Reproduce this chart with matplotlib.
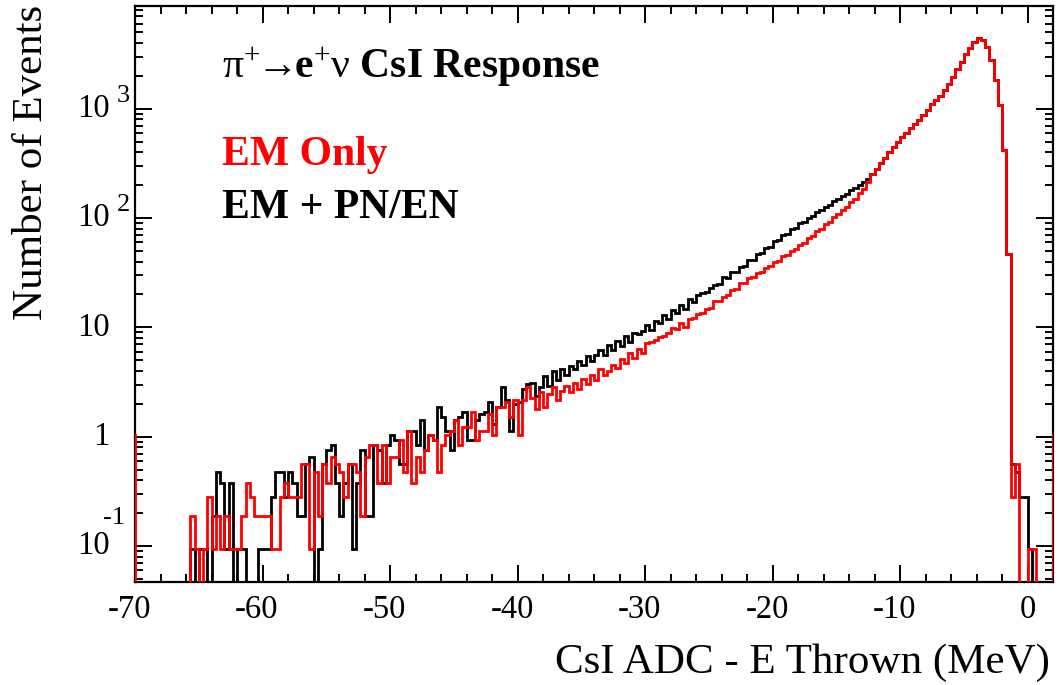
import numpy as np
import matplotlib
matplotlib.use("Agg")
import matplotlib.pyplot as plt
from matplotlib import transforms
from matplotlib.ticker import MultipleLocator, LogLocator, NullFormatter

plt.rcParams['font.family'] = ['Liberation Serif', 'DejaVu Serif']
plt.rcParams['mathtext.fontset'] = 'custom'
plt.rcParams['mathtext.rm'] = 'Liberation Serif'
plt.rcParams['mathtext.bf'] = 'Liberation Serif:bold'
plt.rcParams['mathtext.it'] = 'Liberation Serif:italic'
plt.rcParams['axes.unicode_minus'] = False

# --- binning ---------------------------------------------------------------
X_LO, X_HI = -70.0, 2.0
BIN_WIDTH = 1.0 / 3.0
COUNT_WEIGHT = 0.094          # events per raw MC count (histogram is scaled)

# raw counts, one per 1/3 MeV bin starting at -70 MeV
black_low = [0] * 13 + [
    1, 0, 1, 1, 0, 2, 5, 4, 1, 4, 0, 1, 1, 0, 0, 0, 1, 1, 1, 3,
    5, 5, 3, 5, 4, 2, 2, 6, 7, 0, 1, 6, 8,
    9, 4, 2, 4, 6, 1, 4, 8, 2, 2, 9, 8, 4, 9, 11, 10, 6, 6, 12, 12,
    9, 15, 8, 11, 10, 20, 16, 12, 8, 15, 16, 18, 10, 10, 15, 17, 18, 22, 14, 20,
    30, 23, 12, 21, 22, 29, 32, 33, 25,
    30, 38, 31, 42, 35, 44, 39, 47, 44, 52,
    48, 58, 52, 60, 66, 59, 73, 66, 80, 72,
    88, 78, 95, 92, 99, 112, 101, 122, 117, 137,
    128, 152, 144, 170, 158, 192, 180, 210, 218, 226,
    244, 262, 265, 305, 300, 338, 340, 378, 388, 438,
    440, 498, 508, 568, 582, 650, 668, 742, 762, 838,
    870, 952, 980, 1070, 1110, 1200, 1260, 1350, 1415, 1520,
    1590, 1710, 1780, 1915, 1990, 2140, 2250, 2440]

red_low = [0] * 13 + [
    2, 1, 0, 1, 3, 1, 2, 1, 2, 1, 1, 1, 2, 4, 3, 2, 2, 2, 2, 1,
    1, 3, 4, 3, 3, 3, 6, 6, 1, 5, 2, 6, 4,
    7, 6, 5, 3, 6, 6, 5, 2, 7, 9, 9, 4, 9, 4, 7, 7, 10, 5, 12, 4,
    7, 5, 8, 11, 10, 5, 9, 11, 12, 15, 9, 13, 13, 18, 10, 12, 12, 17, 11, 20,
    20, 22, 16, 23, 11, 23, 30, 24, 19,
    27, 20, 26, 30, 23, 28, 31, 27, 33, 29,
    36, 32, 39, 35, 44, 39, 42, 48, 45, 55,
    50, 62, 56, 68, 62, 77, 78, 81, 86, 88,
    95, 104, 102, 116, 108, 128, 129, 142, 145, 156,
    160, 184, 186, 202, 210, 232, 240, 268, 270, 298,
    305, 336, 345, 372, 388, 418, 434, 474, 490, 534,
    552, 606, 632, 698, 732, 808, 850, 930, 980, 1080,
    1150, 1260, 1350, 1490, 1600, 1790, 1970, 2280]

# peak region, both samples agree
peak_counts = [
    2673, 2999, 3365, 3776, 4236, 4753, 5333, 5848, 6412, 7031,
    7709, 8453, 9268, 10400, 11670, 12790, 14030, 15740, 18070, 20750,
    24380, 28640, 33650, 38640, 43350, 46990, 45300, 39000, 29800, 19500,
    11420, 4440, 497]

black_tail = [6, 5, 3, 3, 1, 0, 0, 0, 0, 0]
red_tail = [3, 6, 0, 0, 1, 1, 0, 0, 0, 0]

red_underflow, red_overflow = 11, 11
black_underflow, black_overflow = 0, 0

black_counts = np.array([black_underflow] + black_low + peak_counts + black_tail + [black_overflow])
red_counts = np.array([red_underflow] + red_low + peak_counts + red_tail + [red_overflow])
edges = X_LO - BIN_WIDTH + BIN_WIDTH * np.arange(len(black_counts) + 1)


def to_events(counts):
    # empty bins go below the axis, like the log-scale ROOT drawing
    return np.where(counts > 0, counts * COUNT_WEIGHT, 1e-4)


W, H = 1059, 685
fig = plt.figure(figsize=(W / 100, H / 100), dpi=100)
ax = fig.add_axes([135 / W, 1 - 582 / H, 918 / W, 576 / H])

ax.stairs(to_events(black_counts), edges, baseline=None, color="black", lw=2.0, zorder=3)
ax.stairs(to_events(red_counts), edges, baseline=None, color="#ff0000", lw=2.0, zorder=4)

ax.set_yscale("log")
ax.set_xlim(X_LO, X_HI)
ax.set_ylim(0.0468, 8710)

for s in ax.spines.values():
    s.set_linewidth(1.6)

ax.xaxis.set_major_locator(MultipleLocator(10))
ax.xaxis.set_minor_locator(MultipleLocator(2))
ax.xaxis.set_major_formatter(NullFormatter())
ax.yaxis.set_major_locator(LogLocator(base=10))
ax.yaxis.set_minor_locator(LogLocator(base=10, subs=np.arange(2, 10)))
ax.yaxis.set_major_formatter(NullFormatter())
ax.yaxis.set_minor_formatter(NullFormatter())
ax.tick_params(which="both", direction="in", top=True, right=True, width=1.4)
ax.tick_params(which="major", length=12)
ax.tick_params(which="minor", length=6)

# x labels: ROOT centres the digits, the minus sign hangs to the left
xlab = transforms.blended_transform_factory(ax.transData, ax.transAxes)
x_ticks = [-70, -60, -50, -40, -30, -20, -10, 0]
for v in x_ticks:
    off = transforms.ScaledTranslation(-0.055 if v < 0 else 0, 0, fig.dpi_scale_trans)
    ax.text(v, -28 / 576, str(v), transform=xlab + off, ha="center", va="center", fontsize=23.5)

# y labels in ROOT style: base right-aligned, exponent floating up-right
ylab = transforms.blended_transform_factory(ax.transAxes, ax.transData)
base_x = (110 - 135) / 918
y_decades = [0.1, 1, 10, 100, 1000]
y_bases = ["10", "1", "10", "10", "10"]
y_exps = ["-1", "", "", "2", "3"]
for val, base, ex in zip(y_decades, y_bases, y_exps):
    ax.text(base_x, val, base, transform=ylab, ha="right", va="center", fontsize=23.5)
    if ex:
        if ex.startswith("-"):
            dx, dy = -7, 28
        else:
            dx, dy = 7, 13
        off = transforms.ScaledTranslation(dx / 100, dy / 100, fig.dpi_scale_trans)
        ax.text(base_x, val, ex, transform=ylab + off, ha="left", va="center", fontsize=19)

fig.text(12 / W, 1 - 5 / H, "Number of Events", rotation=90, ha="left", va="top", fontsize=31)
fig.text(1050 / W, 1 - 673 / H, "CsI ADC - E Thrown (MeV)", ha="right", va="baseline", fontsize=31)

fig.text(222 / W, 1 - 78 / H,
         r"$\mathrm{\pi}^{+}\!\!\rightarrow\!\!\mathbf{e}^{+}\mathrm{\nu}$ CsI Response",
         ha="left", va="baseline", fontsize=30, fontweight="bold")
fig.text(222 / W, 1 - 165 / H, "EM Only", color="#ff0000",
         ha="left", va="baseline", fontsize=30, fontweight="bold")
fig.text(222 / W, 1 - 218 / H, "EM + PN/EN", color="black",
         ha="left", va="baseline", fontsize=30, fontweight="bold")

fig.savefig("out.png", dpi=100)
